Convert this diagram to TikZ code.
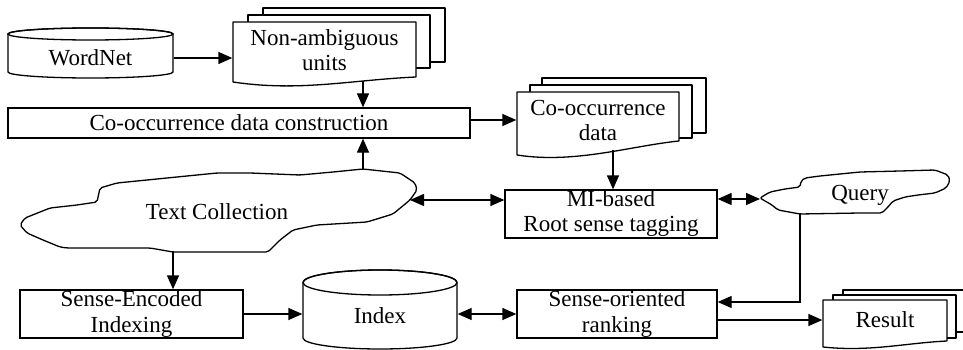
\documentclass[tikz,border=0pt]{standalone}
\usepackage{fontspec}
\setmainfont{Liberation Serif}
\usetikzlibrary{arrows.meta,calc}
\begin{document}
\begin{tikzpicture}[x=1pt,y=-1pt,
  line width=1.3pt,
  every node/.style={font=\fontsize{23}{25}\selectfont},
  lbl/.style={align=center, inner sep=0pt},
  box/.style={draw, align=center, inner sep=0pt},
  arr/.style={-{Triangle[length=14pt,width=12pt]}},
  darr/.style={{Triangle[length=14pt,width=12pt]}-{Triangle[length=14pt,width=12pt]}},
  shp/.style={draw, fill=white, line join=round},
]
\useasboundingbox (0,0) rectangle (963,350);

% ---------- WordNet cylinder
\draw[shp] (8,34) -- (8,72) arc[start angle=180,end angle=360,x radius=82.5pt,y radius=6pt]
  -- (173,34) arc[start angle=0,end angle=180,x radius=82.5pt,y radius=6pt] -- cycle;
\draw (90.5,34) ellipse[x radius=82.5pt,y radius=6pt];
\node[lbl, minimum width=165pt] (wn) at (90.5,58) {WordNet};

% ---------- Non-ambiguous units (multi document)
\draw[shp] (263,8) rectangle (445,62);
\draw[shp] (248,15) rectangle (430,68);
\draw[shp] (233,22) -- (416,22) -- (416,77) .. controls (350,80) and (300,92) .. (233,82) -- cycle;
\node[lbl, minimum width=183pt] (na) at (324.5,50) {Non-ambiguous\\units};

% ---------- Co-occurrence data construction
\node[box, minimum width=462pt, minimum height=30pt] (cdc) at (239,123) {Co-occurrence data construction};

% ---------- Co-occurrence data (multi document)
\draw[shp] (542,78) rectangle (706,133);
\draw[shp] (530,85) rectangle (692,138);
\draw[shp] (517,92) -- (679,92) -- (679,141) .. controls (630,146) and (575,164) .. (517,155) -- cycle;
\node[lbl, minimum width=162pt] (cod) at (598,120) {Co-occurrence\\data};

% ---------- Text Collection cloud
\draw[shp, rounded corners=2pt] (100,188) -- (117,183) -- (167,178) -- (217,173) -- (250,173)
  -- (300,175) -- (333,172) -- (363,169) -- (400,173) -- (415,183) -- (417,190) -- (410,200)
  -- (393,214) -- (367,222) -- (317,225) -- (293,230) -- (280,240) -- (268,252) -- (173,252)
  -- (150,248) -- (67,248) -- (60,247) -- (43,240) -- (27,233) -- (20,225) -- (25,218)
  -- (50,208) -- (77,205) -- (97,202) -- cycle;
\node[lbl] (tc) at (217,212) {Text Collection};
\coordinate (tct) at (363,169);
\coordinate (tcr) at (410,200);
\coordinate (tcb) at (173,252);

% ---------- MI-based box
\node[box, minimum width=212pt, minimum height=48pt] (mi) at (611,214) {MI-based\\Root sense tagging};

% ---------- Query cloud
\draw[shp, rounded corners=2pt] (760,198) -- (770,192) -- (785,189) -- (800,187) -- (801,181)
  -- (805,178) -- (820,176) -- (860,172) -- (900,171) -- (935,170) -- (948,175) -- (950,181)
  -- (946,188) -- (935,193) -- (918,195) -- (905,197) -- (893,201) -- (888,207) -- (882,213)
  -- (860,213) -- (800,214) -- (778,210) -- (772,205) -- (765,201) -- cycle;
\node[lbl] (q) at (860,195) {Query};
\coordinate (ql) at (760,199);
\coordinate (qb) at (800,213);

% ---------- Sense-Encoded Indexing
\node[box, minimum width=223pt, minimum height=48pt] (sei) at (131.5,314) {Sense-Encoded\\Indexing};

% ---------- Index cylinder
\draw[shp] (303,282.5) -- (303,338) arc[start angle=180,end angle=360,x radius=77pt,y radius=11pt]
  -- (457,282.5) arc[start angle=0,end angle=180,x radius=77pt,y radius=12.5pt] -- cycle;
\draw (380,282.5) ellipse[x radius=77pt,y radius=12.5pt];
\node[lbl, minimum width=154pt] (idx) at (380,316) {Index};

% ---------- Sense-oriented ranking
\node[box, minimum width=200pt, minimum height=48pt] (sor) at (617,314) {Sense-oriented\\ranking};

% ---------- Result (multi document)
\draw[shp] (843,290) rectangle (970,332);
\draw[shp] (833,295) rectangle (956,338);
\draw[shp] (823,300) -- (947,300) -- (947,341) .. controls (905,343) and (870,352) .. (823,347) -- cycle;
\node[lbl, minimum width=124pt] (res) at (885,320) {Result};

% ---------- connectors
\draw[arr] (wn.east) -- (wn.east -| na.west);
\coordinate (nab) at (363,81);
\draw[arr] (nab) -- (nab |- cdc.north);
\draw[arr] (cdc.east |- cod.west) -- (cod.west);
\coordinate (codb) at (613,150);
\draw[arr] (codb) -- (codb |- mi.north);
\draw[arr] (tct) -- (tct |- cdc.south);
\draw[darr] (tcr) -- (tcr -| mi.west);
\draw[darr] (mi.east |- ql) -- (ql);
\draw[arr] (tcb) -- (tcb |- sei.north);
\draw[arr] (sei.east) -- (sei.east -| idx.west);
\draw[darr] (idx.east |- sor.west) -- (sor.west);
\draw[arr] (qb) |- ([yshift=12pt]sor.east);
\draw[arr] (sor.east |- res.west) -- (res.west);
\end{tikzpicture}
\end{document}
